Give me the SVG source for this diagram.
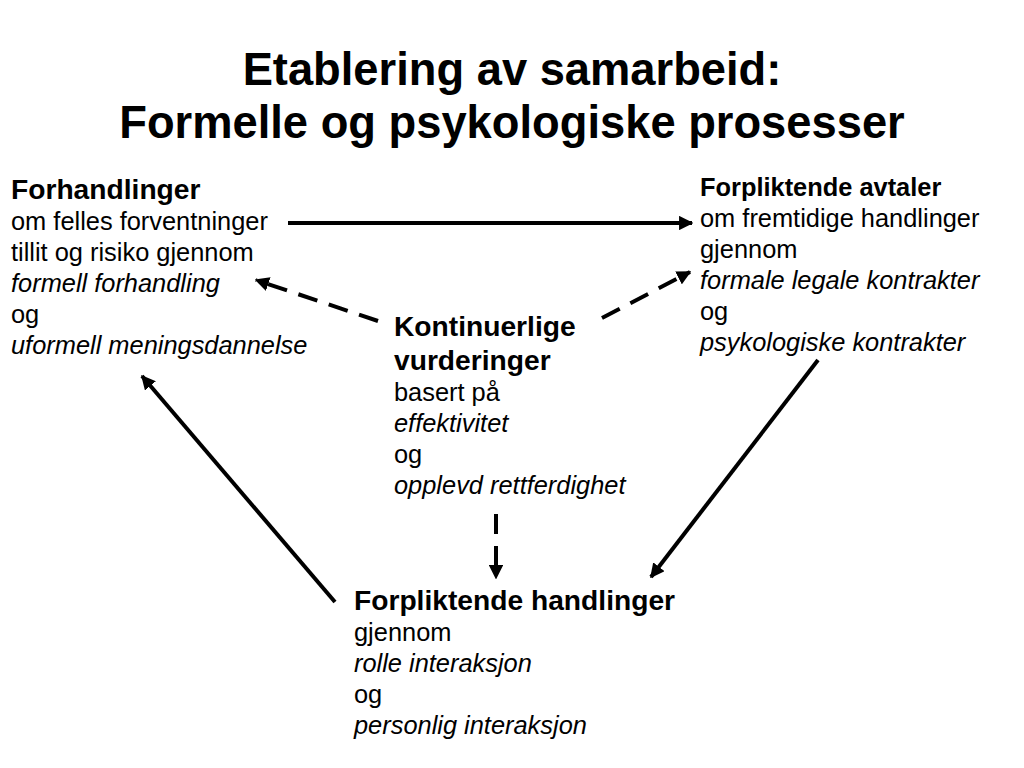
<svg xmlns="http://www.w3.org/2000/svg" width="1024" height="768" viewBox="0 0 1024 768">
<defs>
<style>
text{font-family:"Liberation Sans",Arial,sans-serif;fill:#000}
.t{font-size:45.3px;font-weight:bold}
.h{font-size:28.2px;font-weight:bold}
.b{font-size:25.4px}
.i{font-style:italic}
.c{stroke:#000;stroke-width:4;fill:none}
.d{stroke-dasharray:20 12}
</style>
<marker id="ah" viewBox="0 0 10 10" refX="9" refY="5" markerWidth="3.6" markerHeight="3.6" orient="auto" markerUnits="strokeWidth">
<path d="M0,0 L10,5 L0,10 z" fill="#000"/>
</marker>
</defs>
<rect width="1024" height="768" fill="#fff"/>
<g id="title">
<text class="t" x="512" y="85" text-anchor="middle">Etablering av samarbeid:</text>
<text class="t" x="512" y="138" text-anchor="middle">Formelle og psykologiske prosesser</text>
</g>
<g id="connectors">
<line class="c" x1="288" y1="223" x2="692" y2="223" marker-end="url(#ah)"/>
<line class="c d" x1="378" y1="321" x2="256" y2="280" marker-end="url(#ah)"/>
<line class="c d" x1="602" y1="318" x2="690" y2="272" marker-end="url(#ah)"/>
<line class="c d" x1="496" y1="514" x2="496" y2="578" marker-end="url(#ah)"/>
<line class="c" x1="818" y1="360" x2="651" y2="577" marker-end="url(#ah)"/>
<line class="c" x1="335" y1="602" x2="142" y2="376" marker-end="url(#ah)"/>
</g>
<g id="forhandlinger">
<text class="h" x="11" y="199">Forhandlinger</text>
<text class="b" x="11" y="230">om felles forventninger</text>
<text class="b" x="11" y="261">tillit og risiko gjennom</text>
<text class="b i" x="11" y="292">formell forhandling</text>
<text class="b" x="11" y="323">og</text>
<text class="b i" x="11" y="354">uformell meningsdannelse</text>
</g>
<g id="avtaler">
<text class="b" x="700" y="196" font-weight="bold">Forpliktende avtaler</text>
<text class="b" x="700" y="227">om fremtidige handlinger</text>
<text class="b" x="700" y="258">gjennom</text>
<text class="b i" x="700" y="289">formale legale kontrakter</text>
<text class="b" x="700" y="320">og</text>
<text class="b i" x="700" y="351">psykologiske kontrakter</text>
</g>
<g id="vurderinger">
<text class="h" x="394" y="336">Kontinuerlige</text>
<text class="h" x="394" y="370">vurderinger</text>
<text class="b" x="394" y="401">basert på</text>
<text class="b i" x="394" y="432">effektivitet</text>
<text class="b" x="394" y="463">og</text>
<text class="b i" x="394" y="494">opplevd rettferdighet</text>
</g>
<g id="handlinger">
<text class="h" x="354" y="610">Forpliktende handlinger</text>
<text class="b" x="354" y="641">gjennom</text>
<text class="b i" x="354" y="672">rolle interaksjon</text>
<text class="b" x="354" y="703">og</text>
<text class="b i" x="354" y="734">personlig interaksjon</text>
</g>
</svg>
